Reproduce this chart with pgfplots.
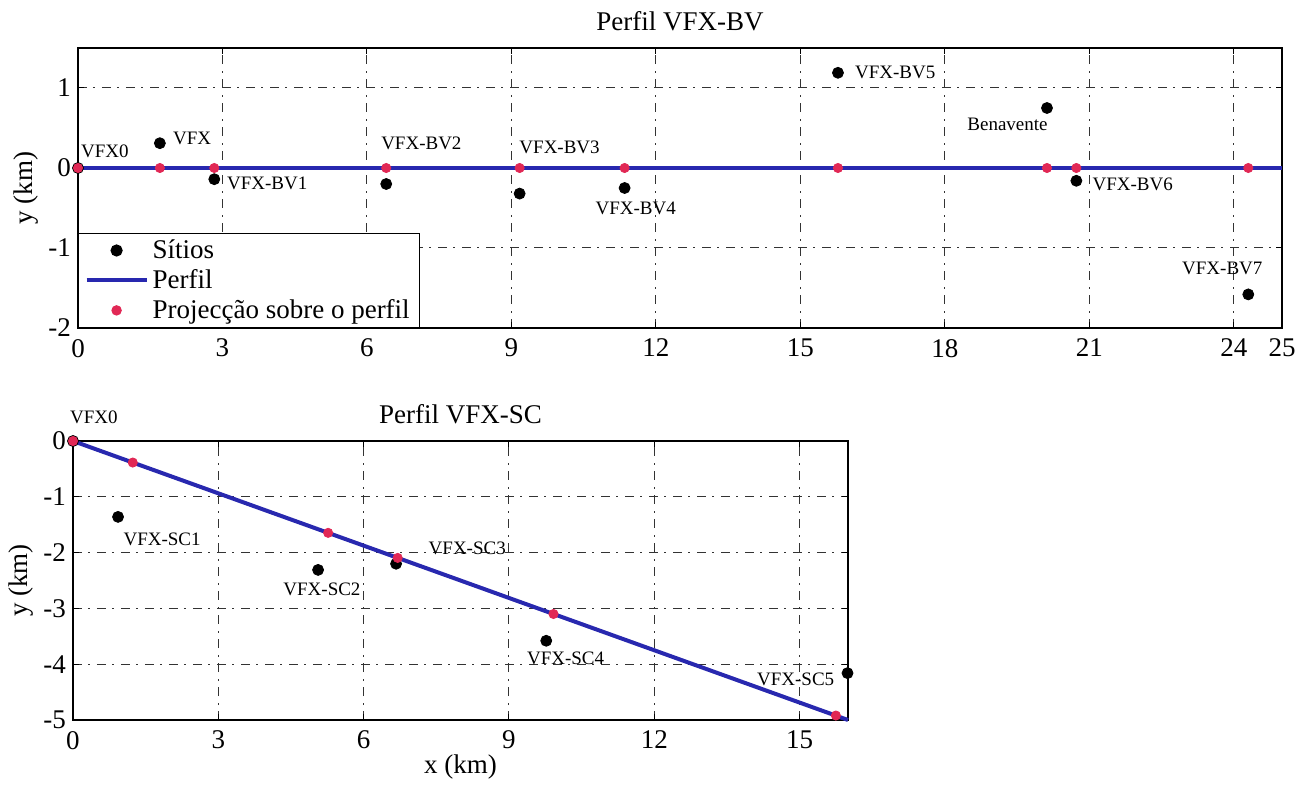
\documentclass[border=0pt]{standalone}
\usepackage{fontspec}
\setmainfont{Liberation Serif}
\usepackage{pgfplots}
\pgfplotsset{compat=1.18}

\definecolor{perfilblue}{RGB}{40,40,175}
\definecolor{proj}{RGB}{225,40,85}

\newcommand{\bigfont}{\fontsize{13.5}{15}\selectfont}
\newcommand{\lbl}{\fontsize{9.5}{10}\selectfont}

\pgfplotsset{perfilaxis/.style={
    scale only axis,
    clip=false,
    axis line style={line width=0.6pt},
    tick align=inside,
    major tick length=3pt,
    tick style={line width=0.5pt, black},
    grid=major,
    major grid style={black!80, line width=0.5pt, dash pattern=on 4.5pt off 3pt on 1pt off 3.5pt},
    ticklabel style={font=\bigfont},
    xticklabel style={yshift=-2pt},
    label style={font=\bigfont},
    title style={font=\bigfont, yshift=-1pt},
    /pgf/number format/assume math mode=true,
    ylabel style={yshift=-2pt},
}}

\begin{document}
\begin{tikzpicture}
\path (0,0) rectangle (656pt,-390pt);

% --- Perfil VFX-BV ---
\begin{axis}[perfilaxis,
    at={(39pt,-164pt)}, anchor=south west,
    width=602pt, height=140pt,
    xmin=0, xmax=25, ymin=-2, ymax=1.5,
    xtick={0,3,6,9,12,15,18,21,24,25},
    ytick={-2,-1,0,1},
    title={Perfil VFX-BV},
    ylabel={y (km)},
    legend cell align=left,
    legend style={at={(0,0)}, anchor=south west, draw=black, line width=0.6pt,
        fill=white, font=\bigfont, row sep=0pt, inner xsep=3pt, inner ysep=1pt,
        /tikz/every even column/.append style={column sep=1pt}},
]
\addplot[only marks, mark=*, mark size=2.75pt, black,
    legend image code/.code={\fill[black] (15pt,0pt) circle (2.75pt);}]
    coordinates {(0,0) (1.7,0.31) (2.83,-0.14) (6.4,-0.2) (9.17,-0.32)
    (11.35,-0.25) (15.78,1.19) (20.12,0.75) (20.73,-0.16) (24.3,-1.58)};
\addlegendentry{Sítios}
\addplot[perfilblue, line width=2pt,
    legend image code/.code={\draw[perfilblue, line width=2pt] (0pt,0pt) -- (30pt,0pt);}]
    coordinates {(0,0) (25,0)};
\addlegendentry{Perfil}
\addplot[only marks, mark=*, mark size=2.3pt, proj, mark options={draw=proj, fill=proj},
    legend image code/.code={\fill[proj] (15pt,0pt) circle (2.3pt);}]
    coordinates {(0,0) (1.7,0) (2.83,0) (6.4,0) (9.17,0)
    (11.35,0) (15.78,0) (20.12,0) (20.73,0) (24.3,0)};
\addlegendentry{Projecção sobre o perfil}

\node[font=\lbl] at (axis cs:0.56,0.21) {VFX0};
\node[font=\lbl] at (axis cs:2.37,0.375) {VFX};
\node[font=\lbl] at (axis cs:3.93,-0.19) {VFX-BV1};
\node[font=\lbl] at (axis cs:7.13,0.31) {VFX-BV2};
\node[font=\lbl] at (axis cs:10.0,0.26) {VFX-BV3};
\node[font=\lbl] at (axis cs:11.58,-0.5) {VFX-BV4};
\node[font=\lbl] at (axis cs:16.97,1.19) {VFX-BV5};
\node[font=\lbl] at (axis cs:19.3,0.55) {Benavente};
\node[font=\lbl] at (axis cs:21.9,-0.2) {VFX-BV6};
\node[font=\lbl] at (axis cs:23.76,-1.26) {VFX-BV7};
\end{axis}

% --- Perfil VFX-SC ---
\begin{axis}[perfilaxis,
    at={(36.5pt,-360pt)}, anchor=south west,
    width=387.5pt, height=139.5pt,
    xmin=0, xmax=16, ymin=-5, ymax=0,
    xtick={0,3,6,9,12,15},
    ytick={-5,-4,-3,-2,-1,0},
    title={Perfil VFX-SC},
    xlabel={x (km)},
    ylabel={y (km)},
    xlabel style={yshift=4pt},
]
\addplot[only marks, mark=*, mark size=2.75pt, black]
    coordinates {(0,0) (0.93,-1.36) (5.06,-2.31) (6.67,-2.2) (9.77,-3.58) (15.99,-4.16)};
\addplot[perfilblue, line width=2pt] coordinates {(0,0) (16,-5)};
\addplot[only marks, mark=*, mark size=2.3pt, proj, mark options={draw=proj, fill=proj}]
    coordinates {(0,0) (1.234,-0.386) (5.267,-1.646) (6.703,-2.095) (9.92,-3.10) (15.75,-4.92)};

\node[font=\lbl] at (axis cs:0.43,0.43) {VFX0};
\node[font=\lbl] at (axis cs:1.84,-1.77) {VFX-SC1};
\node[font=\lbl] at (axis cs:5.14,-2.65) {VFX-SC2};
\node[font=\lbl] at (axis cs:8.14,-1.92) {VFX-SC3};
\node[font=\lbl] at (axis cs:10.17,-3.89) {VFX-SC4};
\node[font=\lbl] at (axis cs:14.92,-4.28) {VFX-SC5};
\end{axis}
\end{tikzpicture}
\end{document}
